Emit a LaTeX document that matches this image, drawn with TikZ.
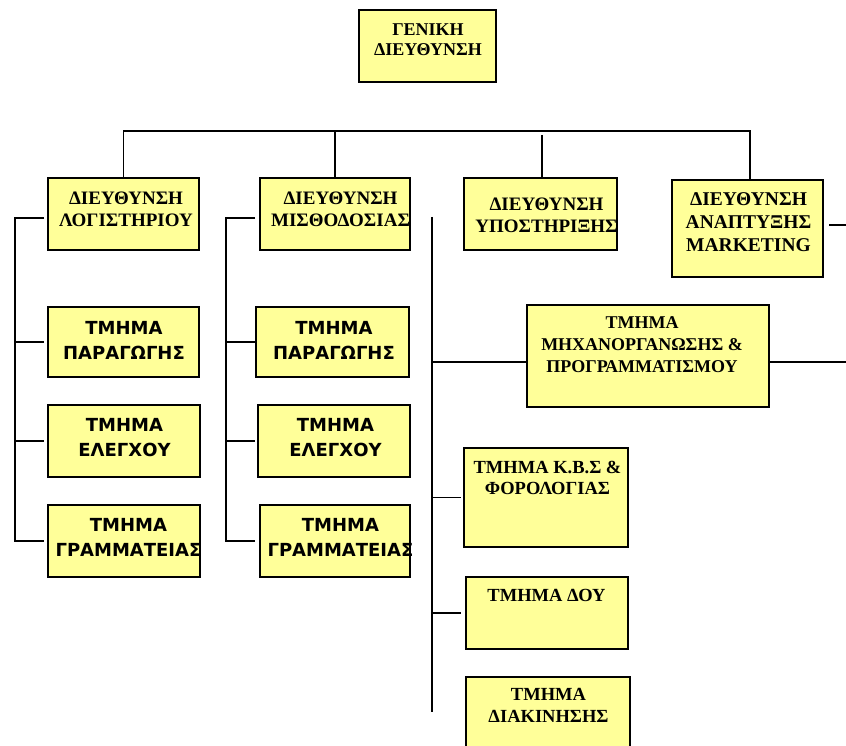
\documentclass[tikz,border=0pt]{standalone}
\usepackage{fontspec}
\setmainfont{Liberation Serif}
\newfontfamily\tahoma{DejaVu Sans}
\definecolor{boxyellow}{RGB}{255,255,153}

\begin{document}
\begin{tikzpicture}[x=1pt,y=-1pt,line width=1.9pt,
      box node/.style={draw,fill=boxyellow,inner sep=0pt,line width=2pt},
      serif text/.style={font=\bfseries\fontsize{19}{22}\selectfont,align=center,inner sep=0pt},
      sans text/.style={font=\tahoma\bfseries\fontsize{18}{25}\selectfont,align=center,inner sep=0pt}]
    \useasboundingbox (0,0) rectangle (846,746);
    \clip (0,0) rectangle (846,746);

    % boxes
    \node[box node,minimum width=137pt,minimum height=72pt] (gd) at (427.5,46) {};
    \node[box node,minimum width=151pt,minimum height=72pt] (dl) at (123.5,214) {};
    \node[box node,minimum width=150pt,minimum height=72pt] (dm) at (335,214) {};
    \node[box node,minimum width=153pt,minimum height=72pt] (dy) at (540.5,214) {};
    \node[box node,minimum width=151pt,minimum height=97pt] (dmk) at (747.5,228.5) {};
    \node[box node,minimum width=151pt,minimum height=70pt] (lp) at (123.5,342) {};
    \node[box node,minimum width=152pt,minimum height=72pt] (le) at (124,441) {};
    \node[box node,minimum width=152pt,minimum height=72pt] (lg) at (124,541) {};
    \node[box node,minimum width=153pt,minimum height=70pt] (mp) at (332.5,342) {};
    \node[box node,minimum width=152pt,minimum height=72pt] (me) at (334,441) {};
    \node[box node,minimum width=150pt,minimum height=72pt] (mg) at (335,541) {};
    \node[box node,minimum width=242pt,minimum height=102pt] (mh) at (648,356) {};
    \node[box node,minimum width=164pt,minimum height=99pt] (kbs) at (546,497.5) {};
    \node[box node,minimum width=162pt,minimum height=72pt] (dou) at (547,613) {};
    \node[box node,minimum width=164pt,minimum height=99pt] (dk) at (548,726.5) {};

    % texts
    \node[serif text,font=\bfseries\fontsize{18}{20}\selectfont] (gd-t) at (428,39.5) {ΓΕΝΙΚΗ\\ΔΙΕΥΘΥΝΣΗ};
    \node[serif text] (dl-t) at (126,209) {ΔΙΕΥΘΥΝΣΗ\\ΛΟΓΙΣΤΗΡΙΟΥ};
    \node[serif text] (dm-t) at (340.5,209) {ΔΙΕΥΘΥΝΣΗ\\ΜΙΣΘΟΔΟΣΙΑΣ};
    \node[serif text] (dy-t) at (546.5,215.5) {ΔΙΕΥΘΥΝΣΗ\\ΥΠΟΣΤΗΡΙΞΗΣ};
    \node[serif text,font=\bfseries\fontsize{19.5}{23}\selectfont] (dmk-t) at (748.5,222) {ΔΙΕΥΘΥΝΣΗ\\ΑΝΑΠΤΥΞΗΣ\\MARKETING};
    \node[sans text] (lp-t) at (124,340) {ΤΜΗΜΑ\\ΠΑΡΑΓΩΓΗΣ};
    \node[sans text] (le-t) at (124.5,437.5) {ΤΜΗΜΑ\\ΕΛΕΓΧΟΥ};
    \node[sans text] (lg-t) at (128.5,537) {ΤΜΗΜΑ\\ΓΡΑΜΜΑΤΕΙΑΣ};
    \node[sans text] (mp-t) at (334,340) {ΤΜΗΜΑ\\ΠΑΡΑΓΩΓΗΣ};
    \node[sans text] (me-t) at (335.5,437.5) {ΤΜΗΜΑ\\ΕΛΕΓΧΟΥ};
    \node[sans text] (mg-t) at (340.5,537) {ΤΜΗΜΑ\\ΓΡΑΜΜΑΤΕΙΑΣ};
    \node[serif text,font=\bfseries\fontsize{18}{22}\selectfont] (mh-t) at (642,344.5) {ΤΜΗΜΑ\\ΜΗΧΑΝΟΡΓΑΝΩΣΗΣ \&\\ΠΡΟΓΡΑΜΜΑΤΙΣΜΟΥ};
    \node[serif text,font=\bfseries\fontsize{18.5}{21}\selectfont] (kbs-t) at (547.5,478) {ΤΜΗΜΑ Κ.Β.Σ \&\\ΦΟΡΟΛΟΓΙΑΣ};
    \node[serif text,font=\bfseries\fontsize{18.5}{21}\selectfont] (dou-t) at (546.5,595.5) {ΤΜΗΜΑ ΔΟΥ};
    \node[serif text,font=\bfseries\fontsize{18.5}{22}\selectfont] (dk-t) at (548.5,705.5) {ΤΜΗΜΑ\\ΔΙΑΚΙΝΗΣΗΣ};

    % top bus
    \coordinate (bus) at (0,131);
    \coordinate (mk-top) at (750,131);
    \coordinate (dy-top) at (542,135);
    \draw (dl.north) -- (dl.north |- bus) -- (mk-top) -- (mk-top |- dmk.north);
    \draw (dm.north) -- (dm.north |- bus);
    \draw (dy-top) -- (dy-top |- dy.north);
    \coordinate (mk-out) at (846,225);
    \draw[shorten <=5pt] (dmk.east |- mk-out) -- (mk-out);

    % left tree
    \coordinate (l-top) at (15,218);
    \coordinate (l-end) at (44,218);
    \draw (l-end) -- (l-top) -- (l-top |- lg.west) -- (lg.west -| l-end);
    \draw (l-top |- lp.west) -- (lp.west -| l-end);
    \draw (l-top |- le.west) -- (le.west -| l-end);

    % second tree
    \coordinate (m-top) at (226,218);
    \coordinate (m-end) at (255,218);
    \draw (m-end) -- (m-top) -- (m-top |- mg.west) -- (mg.west -| m-end);
    \draw (m-top |- mp.west) -- (mp.west -| m-end);
    \draw (m-top |- me.west) -- (me.west -| m-end);

    % third tree
    \coordinate (s-top) at (432,217);
    \coordinate (s-bot) at (432,712);
    \coordinate (mh-in) at (527,362);
    \coordinate (mh-out) at (846,362);
    \draw (s-top) -- (s-bot);
    \draw (s-top |- mh-in) -- (mh-in);
    \draw (mh-in -| mh.east) -- (mh-out);
    \draw[shorten >=2pt] (s-top |- kbs.west) -- (kbs.west);
    \draw[shorten >=4pt] (s-top |- dou.west) -- (dou.west);
  \end{tikzpicture}
\end{document}
